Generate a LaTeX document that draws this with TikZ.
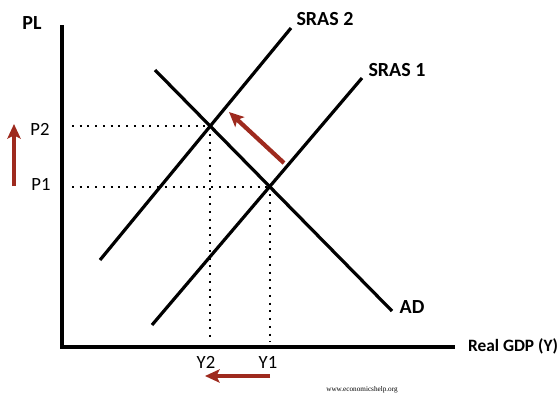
\documentclass[tikz,border=0pt]{standalone}
\usepackage{fontspec}
\setmainfont{Carlito}
\newfontfamily\webfont{Liberation Serif}
\usetikzlibrary{arrows.meta,intersections}
\definecolor{arrowred}{RGB}{158,42,30}
\begin{document}
\begin{tikzpicture}[x=0.75pt,y=-0.75pt,
  axisline/.style={line width=3.5pt, line join=miter},
  curveline/.style={line width=2.4pt},
  dotline/.style={line width=1.5pt, dash pattern=on 1.5pt off 4.3pt},
  shiftarrow/.style={arrowred, line width=2.6pt, -{Stealth[length=11pt,width=10pt,inset=2.5pt]}},
  lbl/.style={font=\fontsize{14}{16}\selectfont, inner sep=0pt},
  blbl/.style={font=\bfseries\fontsize{15}{17}\selectfont, inner sep=0pt}]
\useasboundingbox (0,0) rectangle (558,394);
% axes
\coordinate (ytop) at (62,25);
\coordinate (orig) at (62,347);
\coordinate (xend) at (455,347);
\draw[axisline] (ytop) -- (orig) -- (xend);
% curves
\coordinate (s2lo) at (100,260);
\coordinate (s2hi) at (291,28);
\coordinate (s1lo) at (152,325);
\coordinate (s1hi) at (362,78);
\coordinate (adhi) at (155,70);
\coordinate (adlo) at (392,311);
\draw[curveline, name path=sras2] (s2lo) -- (s2hi);
\draw[curveline, name path=sras1] (s1lo) -- (s1hi);
\draw[curveline, name path=ad] (adhi) -- (adlo);
\path[name intersections={of=sras2 and ad, by=E2}];
\path[name intersections={of=sras1 and ad, by=E1}];
% dotted guides
\coordinate (dstart) at (72,0);
\coordinate (dend) at (0,342);
\draw[dotline] (E2 -| dstart) -- (E2);
\draw[dotline] (E1 -| dstart) -- (E1);
\draw[dotline] (E2) -- (E2 |- dend);
\draw[dotline] (E1) -- (E1 |- dend);
% labels
\node[blbl] (pl) at (32,23) {PL};
\node[blbl] (l2) at (325,19) {SRAS 2};
\node[blbl] (l1) at (397,70) {SRAS 1};
\node[blbl] (lad) at (412,307) {AD};
\node[blbl, font=\bfseries\fontsize{13}{15}\selectfont] (lx) at (513,346) {Real GDP (Y)};
\node[lbl] (p2) at (40,129) {P2};
\node[lbl] (p1) at (41,184) {P1};
\node[lbl] (y2) at (206,362) {Y2};
\node[lbl] (y1) at (268,362) {Y1};
\node[inner sep=0pt, font=\webfont\fontsize{5.4}{6}\selectfont] (web) at (362,390) {www.economicshelp.org};
% shift arrows
\coordinate (uptail) at (14,186);
\coordinate (uphead) at (14,124);
\draw[shiftarrow] (uptail) -- (uphead);
\coordinate (lefttail) at (270,376);
\coordinate (lefthead) at (205,376);
\draw[shiftarrow] (lefttail) -- (lefthead);
\coordinate (dtail) at (284,163);
\coordinate (dhead) at (229,112);
\draw[shiftarrow, line width=3.2pt] (dtail) -- (dhead);
\end{tikzpicture}
\end{document}
